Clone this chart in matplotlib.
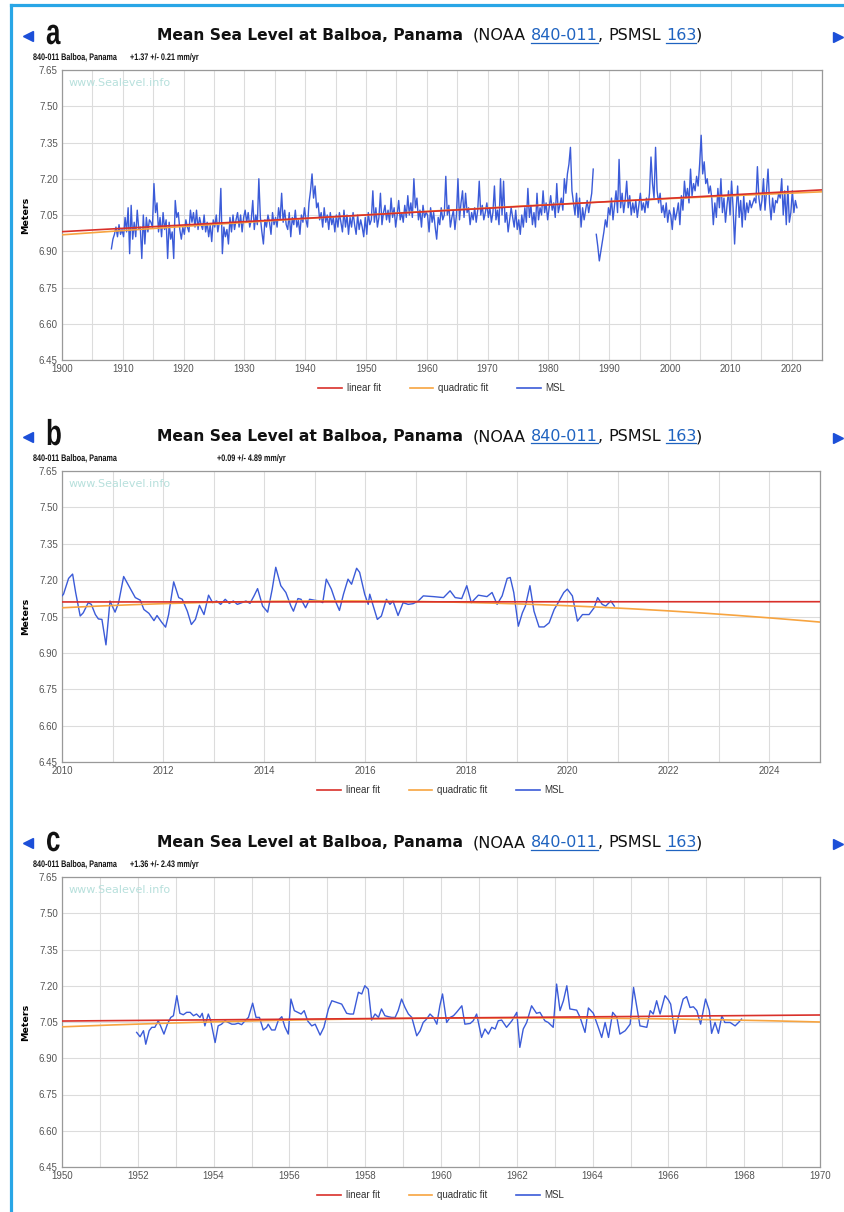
import matplotlib
matplotlib.use("Agg")
import matplotlib.pyplot as plt
from matplotlib.lines import Line2D
from matplotlib.textpath import TextPath
from matplotlib.patches import PathPatch
from matplotlib.font_manager import FontProperties
from matplotlib.transforms import Affine2D
import numpy as np

W, H = 844, 1212

# ---------------- data ----------------
# panel a : quarterly estimates 1908 - 2020 (m)
a_start = 1908.0
a_msl = [
    6.91, 6.95, 6.97, 7.00, 6.96, 7.01, 6.97, 6.99, 6.96, 7.04, 6.98, 7.08,
    6.89, 7.09, 6.95, 7.02, 6.96, 7.07, 6.99, 7.00, 6.87, 7.05, 6.93, 7.04,
    6.98, 7.03, 7.02, 7.00, 7.18, 7.06, 7.10, 6.98, 7.04, 6.96, 7.06, 6.99,
    7.03, 6.87, 7.02, 6.95, 6.98, 6.87, 7.11, 7.04, 7.06, 6.99, 6.95, 7.00,
    6.97, 7.03, 7.00, 6.98, 7.07, 7.02, 7.06, 7.00, 7.07, 6.99, 7.04, 7.01,
    6.99, 7.05, 6.98, 7.02, 6.96, 7.01, 6.94, 7.03, 7.00, 7.05, 6.98, 7.02,
    7.16, 6.89, 7.00, 6.96, 6.99, 6.93, 7.04, 6.98, 7.05, 6.99, 7.03, 7.06,
    7.00, 7.05, 6.98, 7.04, 7.07, 7.02, 7.06, 7.00, 7.03, 7.11, 6.99, 7.05,
    7.01, 7.20, 7.04, 6.98, 6.93, 7.03, 7.00, 7.05, 7.02, 6.97, 7.06, 7.01,
    7.04, 7.00, 7.08, 7.03, 7.14, 7.02, 7.07, 7.01, 6.99, 7.06, 6.96, 7.04,
    7.01, 7.07, 7.00, 7.03, 6.97, 7.05, 7.02, 7.08, 7.03, 7.00, 7.10, 7.15,
    7.22, 7.12, 7.17, 7.08, 7.10, 7.03, 7.06, 7.00, 7.08, 7.02, 7.05, 6.99,
    7.06, 7.01, 7.04, 6.98, 7.05, 7.00, 7.06, 7.02, 6.98, 7.07, 7.00, 7.05,
    6.97, 7.04, 7.00, 7.06, 7.01, 6.97, 7.05, 6.99, 7.03, 7.00, 6.96, 7.04,
    6.97, 7.06, 7.01, 7.03, 7.15, 7.02, 7.08, 7.00, 7.04, 7.14, 7.01, 7.06,
    7.09, 7.03, 7.07, 7.02, 7.12, 7.04, 7.08, 7.00, 7.05, 7.11, 7.03, 7.06,
    7.02, 7.09, 7.04, 7.13, 7.05, 7.10, 7.04, 7.20, 7.08, 7.12, 7.03, 7.07,
    7.00, 7.09, 7.04, 7.06, 7.05, 6.98, 7.08, 7.02, 7.06, 7.00, 6.95, 7.04,
    7.01, 7.08, 7.03, 7.05, 7.21, 7.05, 7.09, 7.00, 7.04, 7.07, 6.99, 7.05,
    7.20, 7.03, 7.10, 7.15, 7.04, 7.14, 7.06, 7.08, 7.01, 7.06, 7.03, 7.08,
    7.02, 7.07, 7.19, 7.05, 7.09, 7.03, 7.06, 7.10, 7.04, 7.08, 7.02, 7.06,
    7.17, 7.03, 7.07, 7.01, 7.20, 7.05, 7.19, 7.02, 7.06, 6.98, 7.03, 7.08,
    7.04, 7.00, 7.07, 6.99, 7.03, 6.97, 7.05, 7.00, 7.08, 7.02, 7.16, 7.04,
    7.09, 7.01, 7.06, 7.00, 7.14, 7.03, 7.08, 7.05, 7.15, 7.06, 7.10, 7.03,
    7.08, 7.13, 7.07, 7.10, 7.04, 7.18, 7.06, 7.09, 7.12, 7.07, 7.20, 7.14,
    7.22, 7.26, 7.33, 7.15, 7.10, 7.05, 7.14, 7.04, 7.12, 7.00, 7.08, 7.03,
    7.07, 7.11, 7.06, 7.10, 7.14, 7.24, np.nan, 6.97, 6.92, 6.86, 6.90, 6.94,
    6.98, 7.03, 7.00, 7.08, 7.05, 7.12, 7.03, 7.09, 7.15, 7.06, 7.28, 7.08,
    7.14, 7.06, 7.11, 7.19, 7.08, 7.13, 7.05, 7.10, 7.06, 7.11, 7.04, 7.09,
    7.14, 7.07, 7.10, 7.06, 7.12, 7.08, 7.14, 7.29, 7.18, 7.12, 7.33, 7.15,
    7.10, 7.14, 7.06, 7.09, 7.04, 7.10, 7.02, 7.07, 7.05, 6.99, 7.08, 7.03,
    7.06, 7.10, 7.01, 7.13, 7.07, 7.19, 7.12, 7.16, 7.10, 7.24, 7.13, 7.18,
    7.15, 7.21, 7.17, 7.26, 7.38, 7.22, 7.27, 7.18, 7.20, 7.14, 7.17, 7.12,
    7.01, 7.10, 7.04, 7.16, 7.08, 7.20, 7.06, 7.12, 7.02, 7.09, 7.15, 7.05,
    7.19, 7.08, 6.93, 7.07, 7.17, 7.04, 7.11, 7.00, 7.13, 7.03, 7.10, 7.06,
    7.11, 7.08, 7.10, 7.12, 7.10, 7.25, 7.12, 7.07, 7.11, 7.20, 7.07, 7.15,
    7.24, 7.10, 7.03, 7.12, 7.06, 7.11, 7.10, 7.14, 7.12, 7.20, 7.05, 7.15,
    7.01, 7.17, 7.02, 7.06, 7.15, 7.06, 7.11, 7.08,
]
a_lin_years = [1900, 2025]
a_lin = [6.981, 7.154]
a_quad_years = [1900, 1962, 2025]
a_quad = [6.968, 7.068, 7.146]

# panel b : 2010 - 2020
b_years = [
    2010.00, 2010.03, 2010.13, 2010.21, 2010.27, 2010.36, 2010.42, 2010.52, 2010.58,
    2010.66, 2010.72, 2010.79, 2010.87, 2010.95, 2011.05, 2011.12, 2011.22, 2011.32,
    2011.45, 2011.55, 2011.62, 2011.72, 2011.82, 2011.88, 2011.97, 2012.05, 2012.11,
    2012.21, 2012.31, 2012.38, 2012.48, 2012.56, 2012.64, 2012.72, 2012.81, 2012.90,
    2012.98, 2013.06, 2013.14, 2013.23, 2013.31, 2013.39, 2013.47, 2013.56, 2013.64,
    2013.72, 2013.80,
    2013.87, 2013.97, 2014.07, 2014.16, 2014.23, 2014.33, 2014.43, 2014.53, 2014.58,
    2014.67, 2014.73, 2014.82, 2014.90, 2015.00, 2015.10, 2015.16, 2015.23, 2015.33,
    2015.41, 2015.49, 2015.57, 2015.66, 2015.73, 2015.83, 2015.89, 2015.99, 2016.06,
    2016.09, 2016.16, 2016.24, 2016.32, 2016.42, 2016.49, 2016.55, 2016.65, 2016.75,
    2016.85, 2016.95, 2017.05, 2017.15, 2017.35, 2017.55, 2017.68, 2017.78,
    2017.91, 2018.01, 2018.10, 2018.24, 2018.41, 2018.51, 2018.61, 2018.71, 2018.81,
    2018.87, 2018.94, 2019.03, 2019.11, 2019.17, 2019.26, 2019.34, 2019.44, 2019.54,
    2019.64, 2019.74, 2019.80, 2019.93, 2020.00, 2020.10, 2020.20, 2020.30, 2020.43,
    2020.53, 2020.60, 2020.69, 2020.76, 2020.86, 2020.93,
]
b_msl = [
    7.135, 7.142, 7.207, 7.225, 7.149, 7.052, 7.065, 7.107, 7.100,
    7.058, 7.040, 7.038, 6.933, 7.114, 7.068, 7.107, 7.215, 7.177,
    7.128, 7.117, 7.079, 7.063, 7.033, 7.054, 7.027, 7.006, 7.058,
    7.193, 7.128, 7.121, 7.072, 7.017, 7.038, 7.096, 7.058, 7.138,
    7.107, 7.114, 7.100, 7.121, 7.104, 7.114, 7.100, 7.107, 7.114,
    7.104, 7.135,
    7.165, 7.093, 7.068, 7.163, 7.253, 7.177, 7.149, 7.093, 7.072,
    7.124, 7.121, 7.086, 7.121, 7.117, 7.114, 7.107, 7.204, 7.163,
    7.114, 7.075, 7.142, 7.204, 7.183, 7.249, 7.232, 7.142, 7.100,
    7.142, 7.093, 7.038, 7.052, 7.121, 7.100, 7.114, 7.054, 7.107,
    7.100, 7.103, 7.114, 7.135, 7.132, 7.128, 7.156, 7.128,
    7.124, 7.177, 7.107, 7.138, 7.132, 7.149, 7.100, 7.135, 7.207,
    7.211, 7.149, 7.010, 7.065, 7.093, 7.177, 7.072, 7.007, 7.007,
    7.024, 7.079, 7.100, 7.149, 7.163, 7.135, 7.031, 7.058, 7.058,
    7.086, 7.128, 7.100, 7.093, 7.114, 7.093,
]
b_lin_years = [2010, 2025]
b_lin = [7.110, 7.111]
b_quad_years = [2010, 2016, 2025]
b_quad = [7.086, 7.114, 7.027]

# panel c : 1952 - 1967
c_years = [
    1951.97, 1952.06, 1952.15, 1952.21, 1952.30, 1952.37, 1952.45, 1952.54, 1952.60,
    1952.69, 1952.78, 1952.87, 1952.94, 1953.03, 1953.11, 1953.20, 1953.29, 1953.38,
    1953.47, 1953.55, 1953.64, 1953.70, 1953.77, 1953.86, 1953.92, 1954.04, 1954.12,
    1954.21, 1954.30, 1954.39, 1954.48, 1954.56, 1954.65, 1954.74, 1954.83, 1954.92,
    1955.03, 1955.12, 1955.21, 1955.31, 1955.40, 1955.44, 1955.53, 1955.62, 1955.71,
    1955.80, 1955.88, 1955.97, 1956.04, 1956.13, 1956.22, 1956.31, 1956.39, 1956.48,
    1956.59, 1956.68, 1956.81, 1956.91, 1957.03, 1957.12, 1957.25, 1957.38, 1957.51,
    1957.60, 1957.69, 1957.82, 1957.91, 1957.99, 1958.08, 1958.17, 1958.26, 1958.35,
    1958.43, 1958.52, 1958.61, 1958.70, 1958.79, 1958.87, 1958.96, 1959.05, 1959.14,
    1959.23, 1959.36,
    1959.45, 1959.53, 1959.62, 1959.71, 1959.80, 1959.89, 1959.97, 1960.04, 1960.15,
    1960.24, 1960.33, 1960.41, 1960.55, 1960.63, 1960.77, 1960.85, 1960.94, 1961.07,
    1961.16, 1961.25, 1961.34, 1961.43, 1961.51, 1961.60, 1961.73, 1961.87, 1962.00,
    1962.08, 1962.17, 1962.26, 1962.39, 1962.52, 1962.61, 1962.74, 1962.83, 1962.96,
    1963.05, 1963.14, 1963.23, 1963.32, 1963.40, 1963.58, 1963.67, 1963.80, 1963.89,
    1964.02, 1964.15, 1964.24, 1964.33, 1964.42, 1964.53, 1964.64, 1964.72, 1964.86,
    1964.99, 1965.08, 1965.25, 1965.43, 1965.52, 1965.60, 1965.69, 1965.78, 1965.91,
    1966.00, 1966.06, 1966.17, 1966.26, 1966.39, 1966.48, 1966.57, 1966.66, 1966.75,
    1966.85, 1966.98, 1967.08, 1967.14, 1967.23, 1967.32, 1967.41, 1967.49, 1967.63,
    1967.76, 1967.85, 1967.93,
]
c_msl = [
    7.007, 6.989, 7.014, 6.958, 7.014, 7.028, 7.028, 7.055, 7.034,
    7.000, 7.041, 7.069, 7.076, 7.159, 7.086, 7.080, 7.090, 7.090,
    7.076, 7.083, 7.069, 7.086, 7.034, 7.083, 7.058, 6.965, 7.034,
    7.041, 7.055, 7.048, 7.041, 7.041, 7.045, 7.039, 7.055, 7.069,
    7.128, 7.069, 7.069, 7.017, 7.028, 7.041, 7.017, 7.017, 7.058,
    7.072, 7.030, 7.000, 7.145, 7.097, 7.090, 7.083, 7.097, 7.055,
    7.034, 7.041, 6.996, 7.028, 7.104, 7.138, 7.131, 7.124, 7.086,
    7.083, 7.083, 7.173, 7.166, 7.200, 7.186, 7.058, 7.083, 7.069,
    7.104, 7.076, 7.072, 7.069, 7.069, 7.097, 7.145, 7.110, 7.083,
    7.069, 6.993,
    7.014, 7.048, 7.062, 7.083, 7.069, 7.041, 7.117, 7.166, 7.048,
    7.069, 7.076, 7.090, 7.117, 7.041, 7.044, 7.055, 7.083, 6.986,
    7.021, 7.000, 7.028, 7.021, 7.055, 7.058, 7.028, 7.055, 7.090,
    6.945, 7.021, 7.048, 7.117, 7.086, 7.090, 7.055, 7.048, 7.028,
    7.207, 7.097, 7.138, 7.200, 7.104, 7.099, 7.069, 7.007, 7.108,
    7.086, 7.028, 6.986, 7.048, 6.986, 7.090, 7.069, 7.000, 7.014,
    7.041, 7.193, 7.034, 7.028, 7.097, 7.083, 7.138, 7.083, 7.159,
    7.141, 7.124, 7.003, 7.069, 7.145, 7.155, 7.110, 7.113, 7.097,
    7.041, 7.145, 7.097, 7.003, 7.048, 7.003, 7.076, 7.048, 7.048,
    7.034, 7.048, 7.062,
]
c_lin_years = [1950, 1970]
c_lin = [7.054, 7.079]
c_quad_years = [1950, 1960, 1970]
c_quad = [7.030, 7.066, 7.050]

rates = ["+1.37 +/- 0.21 mm/yr", "+0.09 +/- 4.89 mm/yr", "+1.36 +/- 2.43 mm/yr"]
letters = ["a", "b", "c"]
yticks = [6.45, 6.60, 6.75, 6.90, 7.05, 7.20, 7.35, 7.50, 7.65]

# ---------------- drawing ----------------
RED = "#d9302a"
ORANGE = "#f7a440"
BLUE = "#3b5bd8"
LINK = "#1f63c0"

fig = plt.figure(figsize=(W / 100, H / 100), dpi=100)
fig.patch.set_facecolor("white")
rend = fig.canvas.get_renderer()


def fx(x):
    return x / W


def fy(y):
    return 1 - y / H


def narrow_text(x, y, s, size, sx, color="#111111", weight="bold"):
    # text squeezed horizontally (page uses a condensed font); x, y = left/baseline in px
    fp = FontProperties(family="Liberation Sans", weight=weight)
    tp = TextPath((0, 0), s, size=size, prop=fp)
    tr = Affine2D().scale(sx, 1).translate(x, H - y)
    fig.add_artist(PathPatch(tp, transform=tr, facecolor=color, edgecolor="none", lw=0))


# blue page frame
fig.add_artist(Line2D([fx(11), fx(11)], [fy(5), fy(H)], color="#29a6e6", lw=2.3))
fig.add_artist(Line2D([fx(11), fx(W)], [fy(5), fy(5)], color="#29a6e6", lw=2.3))


def title_row(letter, y):
    fig.add_artist(Line2D([fx(28)], [fy(y - 4)], marker="<", ms=7, color="#1c4fd8", lw=0))
    fig.add_artist(Line2D([fx(838)], [fy(y - 3)], marker=">", ms=7, color="#1c4fd8", lw=0))
    narrow_text(46, y + 4, letter, 36, 0.72)
    pieces = [
        ("Mean Sea Level at Balboa, Panama", "bold", 10),
        ("(NOAA", "norm", 5),
        ("840-011", "link", 0),
        (",", "norm", 5),
        ("PSMSL", "norm", 5),
        ("163", "link", 0),
        (")", "norm", 0),
    ]
    x = 157
    for s, style, gap in pieces:
        kw = dict(fontsize=11.5, color="#111111")
        if style == "bold":
            kw = dict(fontsize=11.2, fontweight="bold", color="#111111")
        if style == "link":
            kw = dict(fontsize=11.5, color=LINK)
        t = fig.text(fx(x), fy(y), s, ha="left", va="baseline", **kw)
        bb = t.get_window_extent(renderer=rend)
        if style == "link":
            fig.add_artist(Line2D([bb.x0 / W, bb.x1 / W], [fy(y + 2.5)] * 2, color=LINK, lw=0.9))
        x += bb.width + gap


def panel(idx, top, bottom, right, t, msl, lin_x, lin_y, quad_x, quad_y,
          xlim, xlabels, xgrid, rate_x):
    title_y = top - 30
    title_row(letters[idx], title_y)
    narrow_text(33, top - 10, "840-011 Balboa, Panama", 9.5, 0.76)
    narrow_text(rate_x, top - 10, rates[idx], 9.5, 0.76)

    left = 62
    ax = fig.add_axes([fx(left), fy(bottom), (right - left) / W, (bottom - top) / H])
    ax.set_xlim(*xlim)
    ax.set_ylim(6.45, 7.65)
    ax.set_xticks(xgrid, minor=True)
    ax.set_xticks(xlabels)
    ax.set_xticklabels([str(v) for v in xlabels])
    ax.set_yticks(yticks)
    ax.set_yticklabels(["%.2f" % v for v in yticks])
    ax.grid(True, which="both", axis="x", color="#dcdcdc", lw=0.8)
    ax.grid(True, which="major", axis="y", color="#dcdcdc", lw=0.8)
    ax.set_axisbelow(True)
    ax.tick_params(which="both", length=0, labelsize=7, labelcolor="#555555", pad=3)
    for lab in ax.get_xticklabels() + ax.get_yticklabels():
        lab.set_family("Liberation Sans")
    for sp in ax.spines.values():
        sp.set_color("#999999")
        sp.set_linewidth(0.9)
    ax.set_ylabel("Meters", fontsize=6.8, fontweight="bold", labelpad=6)

    ax.text(0.008, 0.955, "www.Sealevel.info", transform=ax.transAxes, fontsize=8,
            color="#b7e0dc", va="center", ha="left")

    ax.plot(t, msl, color=BLUE, lw=1.0, zorder=3)
    xf = np.linspace(xlim[0], xlim[1], 300)
    x0 = np.mean(quad_x)
    qc = np.polyfit(np.array(quad_x) - x0, quad_y, 2)
    ax.plot(xf, np.polyval(qc, xf - x0), color=ORANGE, lw=1.2, zorder=4)
    lc = np.polyfit(np.array(lin_x) - x0, lin_y, 1)
    ax.plot(xf, np.polyval(lc, xf - x0), color=RED, lw=1.2, zorder=5)

    handles = [Line2D([], [], color=RED, lw=1.2), Line2D([], [], color=ORANGE, lw=1.2),
               Line2D([], [], color=BLUE, lw=1.2)]
    leg_y = -28 / (bottom - top)
    leg = ax.legend(handles, ["linear fit", "quadratic fit", "MSL"], loc="center",
                    bbox_to_anchor=(0.5, leg_y), ncol=3, frameon=False, fontsize=7,
                    handlelength=2.4, handletextpad=0.5, columnspacing=3.0)
    for tx in leg.get_texts():
        tx.set_color("#333333")
        tx.set_family("Liberation Sans")
    return ax


a_t = a_start + 0.125 + np.arange(len(a_msl)) / 4.0

panel(0, 70, 360, 822, a_t, a_msl, a_lin_years, a_lin, a_quad_years, a_quad,
      (1900, 2025), list(range(1900, 2021, 10)), list(range(1900, 2026, 5)), 130)
panel(1, 471, 762, 820, b_years, b_msl, b_lin_years, b_lin, b_quad_years, b_quad,
      (2010, 2025), list(range(2010, 2025, 2)), list(range(2010, 2026)), 217)
panel(2, 877, 1167, 820, c_years, c_msl, c_lin_years, c_lin, c_quad_years, c_quad,
      (1950, 1970), list(range(1950, 1971, 2)), list(range(1950, 1971)), 130)

fig.savefig("out.png", dpi=100, facecolor="white")
